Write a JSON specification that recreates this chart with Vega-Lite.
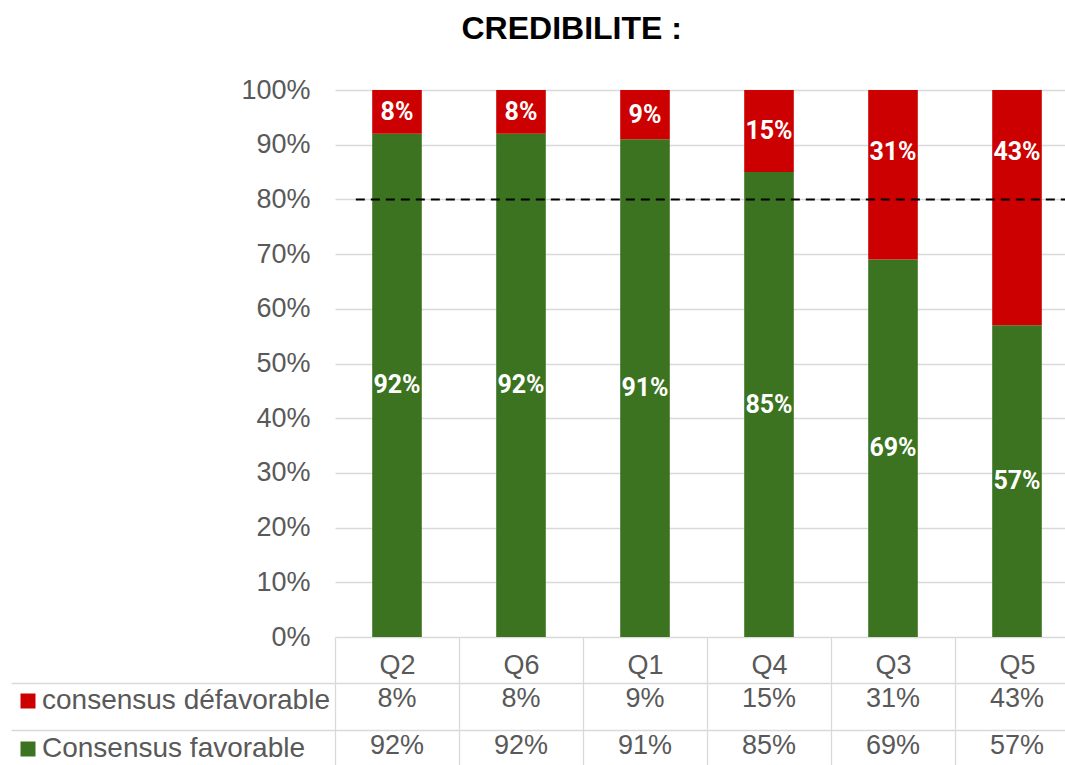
{
  "$schema": "https://vega.github.io/schema/vega-lite/v6.json",
  "padding": {"left": 10, "top": 13, "right": 0, "bottom": 0},
  "background": "white",
  "title": {"text": "CREDIBILITE :", "fontSize": 32, "font": "Liberation Sans", "fontWeight": "bold", "color": "#000000", "anchor": "middle", "dx": 27, "offset": 30},
  "config": {"view": {"stroke": null}, "font": "Liberation Sans"},
  "data": {"values": [
    {"q": "Q2", "series": "Consensus favorable", "value": 0.92},
    {"q": "Q2", "series": "consensus défavorable", "value": 0.08},
    {"q": "Q6", "series": "Consensus favorable", "value": 0.92},
    {"q": "Q6", "series": "consensus défavorable", "value": 0.08},
    {"q": "Q1", "series": "Consensus favorable", "value": 0.91},
    {"q": "Q1", "series": "consensus défavorable", "value": 0.09},
    {"q": "Q4", "series": "Consensus favorable", "value": 0.85},
    {"q": "Q4", "series": "consensus défavorable", "value": 0.15},
    {"q": "Q3", "series": "Consensus favorable", "value": 0.69},
    {"q": "Q3", "series": "consensus défavorable", "value": 0.31},
    {"q": "Q5", "series": "Consensus favorable", "value": 0.57},
    {"q": "Q5", "series": "consensus défavorable", "value": 0.43}
  ]},
  "spacing": -14,
  "resolve": {"scale": {"x": "independent", "y": "independent", "color": "independent"}, "legend": {"color": "independent"}},
  "vconcat": [
    {
      "width": 731,
      "height": 547,
      "layer": [
        {
          "mark": {"type": "bar"},
          "encoding": {
            "x": {"field": "q", "type": "nominal", "sort": ["Q2", "Q6", "Q1", "Q4", "Q3", "Q5"], "scale": {"range": [0, 744], "paddingInner": 0.6, "paddingOuter": 0.3}, "axis": null},
            "y": {"field": "value", "type": "quantitative", "stack": "zero", "scale": {"domain": [0, 1]},
              "axis": {"values": [0, 0.1, 0.2, 0.3, 0.4, 0.5, 0.6, 0.7, 0.8, 0.9, 1], "format": ".0%", "labelFontSize": 27, "labelColor": "#595959", "labelPadding": 25, "ticks": false, "domain": false, "grid": true, "gridColor": "#d9d9d9", "gridWidth": 1.3, "title": null, "minExtent": 324, "maxExtent": 324}},
            "color": {"field": "series", "type": "nominal", "scale": {"domain": ["consensus défavorable", "Consensus favorable"], "range": ["#cc0000", "#3b7320"]}, "legend": null},
            "order": {"field": "series", "sort": "ascending"}
          }
        },
        {
          "transform": [{"calculate": "datum.series === 'Consensus favorable' ? datum.value / 2 : 1 - min(datum.value / 2, 0.113)", "as": "labelY"}],
          "mark": {"type": "text", "font": "Roboto", "fontSize": 25, "fontWeight": "bold", "color": "white", "baseline": "middle", "align": "center"},
          "encoding": {
            "x": {"field": "q", "type": "nominal", "sort": ["Q2", "Q6", "Q1", "Q4", "Q3", "Q5"]},
            "y": {"field": "labelY", "type": "quantitative"},
            "text": {"field": "value", "type": "quantitative", "format": ".0%"}
          }
        },
        {
          "data": {"values": [{"ref": 0.8}]},
          "mark": {"type": "rule", "color": "black", "strokeDash": [9, 6], "strokeWidth": 2},
          "encoding": {
            "y": {"field": "ref", "type": "quantitative"},
            "x": {"datum": "Q2", "bandPosition": -0.33},
            "x2": {"value": "width"}
          }
        }
      ]
    },
    {
      "width": 731,
      "height": 82,
      "layer": [
        {
          "mark": {"type": "text", "fontSize": 27, "color": "#595959", "baseline": "alphabetic", "align": "center", "font": "Liberation Sans"},
          "encoding": {
            "x": {"field": "q", "type": "nominal", "sort": ["Q2", "Q6", "Q1", "Q4", "Q3", "Q5"], "scale": {"range": [0, 744], "paddingInner": 0, "paddingOuter": 0},
              "axis": {"orient": "top", "title": null, "domain": false, "ticks": true, "tickSize": 46, "tickColor": "#d9d9d9", "tickWidth": 1.3, "tickOffset": -62, "labelOffset": 62, "grid": true, "gridColor": "#d9d9d9", "gridWidth": 1.3, "labelFontSize": 27, "labelColor": "#595959", "labelPadding": -36, "labelBaseline": "alphabetic", "labelAngle": 0}},
            "y": {"field": "series", "type": "nominal", "sort": ["consensus défavorable", "Consensus favorable"], "bandPosition": 0.54, "scale": {"range": [0, 94], "paddingInner": 0, "paddingOuter": 0},
              "axis": {"title": null, "labels": false, "domain": false, "ticks": true, "tickSize": 324, "tickColor": "#d9d9d9", "tickWidth": 1.3, "tickOffset": -23.5, "grid": true, "gridColor": "#d9d9d9", "gridWidth": 1.3, "minExtent": 324, "maxExtent": 324}},
            "text": {"field": "value", "type": "quantitative", "format": ".0%"}
          }
        },
        {
          "mark": {"type": "square", "opacity": 0},
          "encoding": {
            "x": {"field": "q", "type": "nominal", "sort": ["Q2", "Q6", "Q1", "Q4", "Q3", "Q5"]},
            "y": {"field": "series", "type": "nominal", "sort": ["consensus défavorable", "Consensus favorable"]},
            "color": {"field": "series", "type": "nominal", "scale": {"domain": ["consensus défavorable", "Consensus favorable"], "range": ["#cc0000", "#3b7320"]},
              "legend": {"orient": "none", "legendX": -321, "legendY": 4, "title": null, "symbolType": "square", "symbolSize": 225, "symbolOpacity": 1, "symbolStrokeWidth": 0, "labelFontSize": 28, "labelColor": "#595959", "labelFont": "Liberation Sans", "labelOffset": 0, "labelLimit": 400, "rowPadding": 20, "padding": 0}}
          }
        }
      ]
    }
  ]
}
